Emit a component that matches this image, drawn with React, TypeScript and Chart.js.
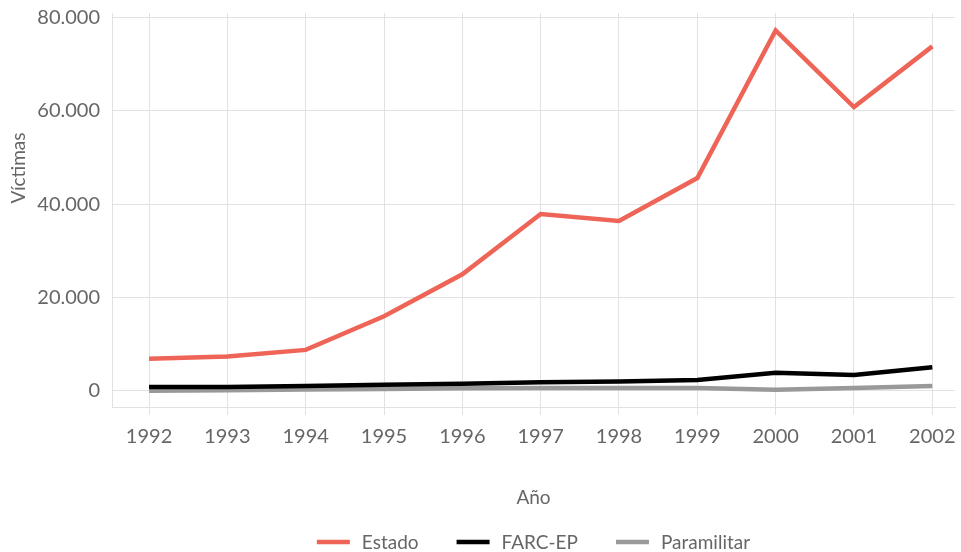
import React, { useEffect, useRef } from "react";
import { Chart, registerables } from "chart.js";

Chart.register(...registerables);

const years = [1992, 1993, 1994, 1995, 1996, 1997, 1998, 1999, 2000, 2001, 2002];
const estado = [6900, 7400, 8800, 16000, 25000, 37900, 36400, 45600, 77200, 60800, 73800];
const farc = [850, 850, 1050, 1350, 1550, 1850, 2050, 2350, 3900, 3400, 5100];
const paramilitar = [50, 150, 300, 450, 600, 650, 650, 650, 250, 650, 1050];
const yTicks = [0, 20000, 40000, 60000, 80000];
const seriesNames = ["Estado", "FARC-EP", "Paramilitar"];
const seriesColors = ["#ee6457", "#000000", "#999999"];

const FONT = "Lato, 'DejaVu Sans', sans-serif";
const TEXT = "#666666";
const GRID = "#e2e2e2";

const fmt = (v: number) => String(Math.round(v)).replace(/\B(?=(\d{3})+(?!\d))/g, ".");

const customPlugin = {
  id: "customText",
  afterDraw(chart: any) {
    const ctx = chart.ctx;
    const area = chart.chartArea;
    ctx.save();
    ctx.fillStyle = TEXT;
    ctx.font = `19px ${FONT}`;
    ctx.textAlign = "center";
    ctx.textBaseline = "middle";
    ctx.translate(19, 168);
    ctx.rotate(-Math.PI / 2);
    ctx.fillText("Víctimas", 0, 0);
    ctx.restore();

    ctx.save();
    ctx.font = `19px ${FONT}`;
    ctx.textBaseline = "middle";
    ctx.textAlign = "left";
    const lineLen = 33;
    const gapText = 12;
    const gapItem = 38;
    const ds = chart.data.datasets;
    const widths = ds.map((d: any) => lineLen + gapText + ctx.measureText(d.label).width);
    const total = widths.reduce((a: number, b: number) => a + b, 0) + gapItem * (ds.length - 1);
    let x = (area.left + area.right) / 2 - total / 2;
    const y = chart.height - 10;
    ds.forEach((d: any, i: number) => {
      ctx.strokeStyle = d.borderColor;
      ctx.lineWidth = 4.5;
      ctx.beginPath();
      ctx.moveTo(x, y);
      ctx.lineTo(x + lineLen, y);
      ctx.stroke();
      ctx.fillStyle = TEXT;
      ctx.fillText(d.label, x + lineLen + gapText, y + 1);
      x += widths[i] + gapItem;
    });
    ctx.restore();
  },
};

export default function App() {
  const ref = useRef<HTMLCanvasElement>(null);
  useEffect(() => {
    if (!ref.current) return;
    const series = [estado, farc, paramilitar];
    const chart = new Chart(ref.current, {
      type: "line",
      data: {
        datasets: series.map((s, i) => ({
          label: seriesNames[i],
          data: years.map((yr, j) => ({ x: yr, y: s[j] })),
          borderColor: seriesColors[i],
          backgroundColor: seriesColors[i],
          borderWidth: 4.5,
          pointRadius: 0,
          tension: 0,
          borderCapStyle: "butt",
        })),
      },
      options: {
        animation: false,
        responsive: true,
        maintainAspectRatio: false,
        layout: { padding: { left: 0, right: 6, top: 13, bottom: 40 } },
        plugins: {
          legend: { display: false },
          tooltip: { enabled: false },
        },
        scales: {
          x: {
            type: "linear",
            min: 1991.527,
            max: 2002.29,
            afterBuildTicks: (scale: any) => {
              scale.ticks = years.map((v) => ({ value: v }));
            },
            afterFit: (scale: any) => {
              scale.height = 105;
              scale.paddingRight = 0;
              scale.paddingLeft = 0;
            },
            border: { display: true, color: GRID, width: 1 },
            grid: { color: GRID, lineWidth: 1, drawTicks: true, tickLength: 8, tickColor: GRID },
            ticks: {
              color: TEXT,
              font: { family: FONT, size: 20 },
              padding: 10,
              maxRotation: 0,
              autoSkip: false,
              callback: (v: any) => String(v),
            },
            title: {
              display: true,
              text: "Año",
              color: TEXT,
              font: { family: FONT, size: 19 },
              padding: { top: 0, bottom: 3 },
            },
          },
          y: {
            type: "linear",
            min: -3430,
            max: 80950,
            afterBuildTicks: (scale: any) => {
              scale.ticks = yTicks.map((v) => ({ value: v }));
            },
            afterFit: (scale: any) => {
              scale.width = 112;
              scale.paddingTop = 0;
              scale.paddingBottom = 0;
            },
            border: { display: true, color: GRID, width: 1 },
            grid: { color: GRID, lineWidth: 1, drawTicks: false },
            ticks: {
              color: TEXT,
              font: { family: FONT, size: 20 },
              padding: 12,
              callback: (v: any) => fmt(Number(v)),
            },
          },
        },
      },
      plugins: [customPlugin],
    } as any);
    return () => chart.destroy();
  }, []);
  return (
    <div style={{ position: "absolute", left: 0, top: 0, width: 961, height: 552, background: "#fff" }}>
      <canvas ref={ref} />
    </div>
  );
}
